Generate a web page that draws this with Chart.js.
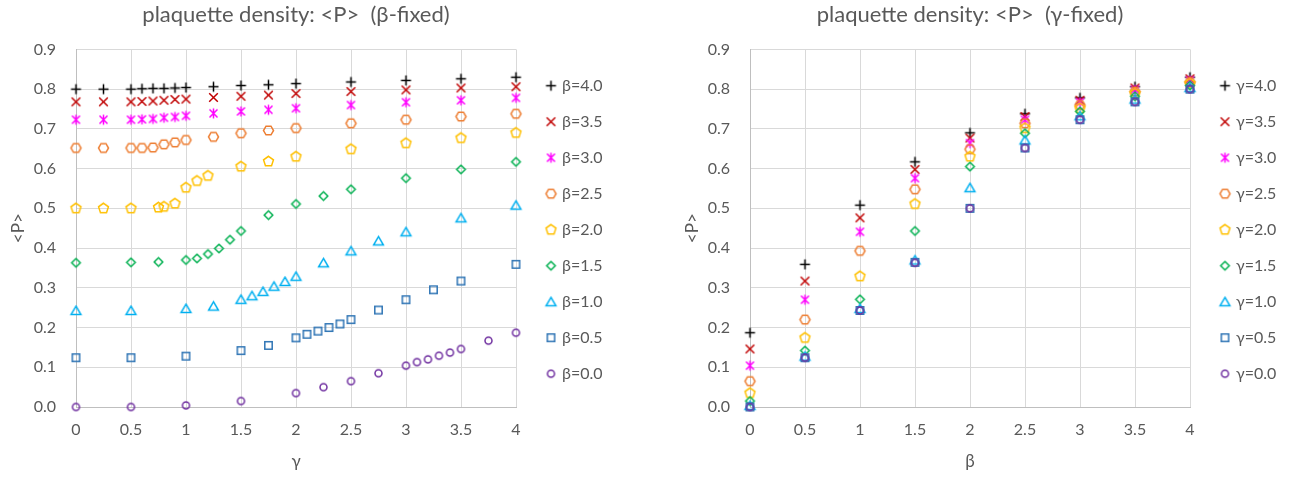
<!DOCTYPE html>
<html>
<head>
<meta charset="utf-8">
<script src="https://cdn.jsdelivr.net/npm/chart.js@4.4.1/dist/chart.umd.min.js"></script>
<style>
  html, body { margin: 0; padding: 0; background: #fff; }
  .row { display: flex; width: 1302px; height: 477px; }
  canvas { display: block; }
</style>
</head>
<body>
<div class="row">
  <canvas id="chartBeta" width="651" height="477"></canvas>
  <canvas id="chartGamma" width="651" height="477"></canvas>
</div>
<script>
// ── Data: left chart, <P> against γ for each fixed β ─────────────────────────
const gamma_b40 = [0, 0.25, 0.5, 0.6, 0.7, 0.8, 0.9, 1, 1.25, 1.5, 1.75, 2, 2.5, 3, 3.5, 4];
const P_b40 = [0.800, 0.800, 0.800, 0.801, 0.802, 0.802, 0.803, 0.804, 0.806, 0.809, 0.811, 0.814, 0.818, 0.822, 0.826, 0.830];
const gamma_b35 = [0, 0.25, 0.5, 0.6, 0.7, 0.8, 0.9, 1, 1.25, 1.5, 1.75, 2, 2.5, 3, 3.5, 4];
const P_b35 = [0.768, 0.768, 0.768, 0.769, 0.770, 0.772, 0.774, 0.775, 0.779, 0.782, 0.785, 0.789, 0.794, 0.798, 0.803, 0.806];
const gamma_b30 = [0, 0.25, 0.5, 0.6, 0.7, 0.8, 0.9, 1, 1.25, 1.5, 1.75, 2, 2.5, 3, 3.5, 4];
const P_b30 = [0.723, 0.723, 0.723, 0.724, 0.725, 0.728, 0.730, 0.733, 0.739, 0.744, 0.748, 0.752, 0.760, 0.767, 0.772, 0.778];
const gamma_b25 = [0, 0.25, 0.5, 0.6, 0.7, 0.8, 0.9, 1, 1.25, 1.5, 1.75, 2, 2.5, 3, 3.5, 4];
const P_b25 = [0.652, 0.652, 0.652, 0.652, 0.653, 0.661, 0.666, 0.672, 0.680, 0.689, 0.696, 0.702, 0.714, 0.723, 0.731, 0.738];
const gamma_b20 = [0, 0.25, 0.5, 0.75, 0.8, 0.9, 1, 1.1, 1.2, 1.5, 1.75, 2, 2.5, 3, 3.5, 4];
const P_b20 = [0.500, 0.500, 0.500, 0.502, 0.504, 0.512, 0.552, 0.569, 0.582, 0.605, 0.618, 0.630, 0.649, 0.664, 0.677, 0.690];
const gamma_b15 = [0, 0.5, 0.75, 1, 1.1, 1.2, 1.3, 1.4, 1.5, 1.75, 2, 2.25, 2.5, 3, 3.5, 4];
const P_b15 = [0.363, 0.364, 0.365, 0.370, 0.374, 0.385, 0.399, 0.421, 0.443, 0.483, 0.511, 0.531, 0.548, 0.576, 0.598, 0.617];
const gamma_b10 = [0, 0.5, 1, 1.25, 1.5, 1.6, 1.7, 1.8, 1.9, 2, 2.25, 2.5, 2.75, 3, 3.5, 4];
const P_b10 = [0.243, 0.243, 0.248, 0.254, 0.271, 0.280, 0.291, 0.304, 0.316, 0.329, 0.363, 0.393, 0.418, 0.441, 0.476, 0.508];
const gamma_b05 = [0, 0.5, 1, 1.5, 1.75, 2, 2.1, 2.2, 2.3, 2.4, 2.5, 2.75, 3, 3.25, 3.5, 4];
const P_b05 = [0.124, 0.124, 0.128, 0.142, 0.155, 0.174, 0.183, 0.191, 0.200, 0.209, 0.220, 0.244, 0.270, 0.295, 0.317, 0.359];
const gamma_b00 = [0, 0.5, 1, 1.5, 2, 2.25, 2.5, 2.75, 3, 3.1, 3.2, 3.3, 3.4, 3.5, 3.75, 4];
const P_b00 = [0.000, 0.000, 0.004, 0.015, 0.035, 0.050, 0.065, 0.085, 0.104, 0.113, 0.120, 0.129, 0.137, 0.146, 0.167, 0.187];

// ── Data: right chart, <P> against β for each fixed γ ─────────────────────────
const betaPoints = [0, 0.5, 1, 1.5, 2, 2.5, 3, 3.5, 4];
const P_g40 = [0.187, 0.359, 0.508, 0.617, 0.690, 0.738, 0.778, 0.806, 0.830];
const P_g35 = [0.146, 0.317, 0.476, 0.598, 0.677, 0.731, 0.772, 0.803, 0.826];
const P_g30 = [0.104, 0.270, 0.441, 0.576, 0.664, 0.723, 0.767, 0.798, 0.822];
const P_g25 = [0.065, 0.220, 0.393, 0.548, 0.649, 0.714, 0.760, 0.794, 0.818];
const P_g20 = [0.035, 0.174, 0.329, 0.511, 0.630, 0.702, 0.752, 0.789, 0.814];
const P_g15 = [0.015, 0.142, 0.271, 0.443, 0.605, 0.689, 0.744, 0.782, 0.809];
const P_g10 = [0.004, 0.128, 0.248, 0.370, 0.552, 0.672, 0.733, 0.775, 0.804];
const P_g05 = [0.000, 0.124, 0.243, 0.364, 0.500, 0.652, 0.723, 0.768, 0.800];
const P_g00 = [0.000, 0.124, 0.243, 0.363, 0.500, 0.652, 0.723, 0.768, 0.800];

// series labels, top to bottom as in the legends
const seriesTags = ['4.0', '3.5', '3.0', '2.5', '2.0', '1.5', '1.0', '0.5', '0.0'];
const xTickStep = 0.5;
const yTickStep = 0.1;

// ── Look ──────────────────────────────────────────────────────────────────────
const TXT = '#595959';
const GRID = '#D9D9D9';
const AXIS = '#BFBFBF';
const MARKS = [
    { shape: 'plus', color: '#000000' },
    { shape: 'cross', color: '#C00000' },
    { shape: 'star', color: '#FF00FF' },
    { shape: 'hexagon', color: '#ED7D31' },
    { shape: 'pentagon', color: '#FFC000' },
    { shape: 'diamond', color: '#00B050' },
    { shape: 'triangle', color: '#00B0F0' },
    { shape: 'square', color: '#2F75B5' },
    { shape: 'circle', color: '#7030A0' },
];

Chart.defaults.font.family = 'Lato, "Open Sans", sans-serif';
Chart.defaults.color = TXT;

// little canvas markers, used as pointStyle (chart and legend alike)
function makeMarker(shape, color) {
    const c = document.createElement('canvas');
    c.width = c.height = 15;
    const g = c.getContext('2d');
    g.translate(7.5, 7.5);
    g.strokeStyle = color;
    g.lineWidth = 1.5;
    g.beginPath();
    const poly = (n, r, a0) => {
        for (let k = 0; k < n; k++) {
            const a = a0 + k * 2 * Math.PI / n;
            k ? g.lineTo(r * Math.cos(a), r * Math.sin(a)) : g.moveTo(r * Math.cos(a), r * Math.sin(a));
        }
        g.closePath();
    };
    switch (shape) {
        case 'plus': g.moveTo(-5, 0); g.lineTo(5, 0); g.moveTo(0, -5); g.lineTo(0, 5); break;
        case 'cross': g.moveTo(-4.3, -4.3); g.lineTo(4.3, 4.3); g.moveTo(4.3, -4.3); g.lineTo(-4.3, 4.3); break;
        case 'star':
            g.moveTo(-4, -4); g.lineTo(4, 4); g.moveTo(4, -4); g.lineTo(-4, 4);
            g.moveTo(0, -5); g.lineTo(0, 5); break;
        case 'hexagon': poly(6, 5, 0); break;
        case 'pentagon': poly(5, 5.2, -Math.PI / 2); break;
        case 'diamond': poly(4, 4.3, -Math.PI / 2); break;
        case 'triangle': g.moveTo(0, -4.3); g.lineTo(4.9, 4); g.lineTo(-4.9, 4); g.closePath(); break;
        case 'square': g.rect(-3.7, -3.7, 7.4, 7.4); break;
        case 'circle': g.arc(0, 0, 3.5, 0, Math.PI * 2); break;
    }
    g.stroke();
    return c;
}

function makeSet(label, xs, ys, i) {
    return {
        label,
        data: xs.map((x, k) => ({ x, y: ys[k] })),
        pointStyle: makeMarker(MARKS[i].shape, MARKS[i].color),
        pointRadius: 5,
        borderColor: MARKS[i].color,
        backgroundColor: 'rgba(0,0,0,0)',
        clip: false,
    };
}

// pushes the legend column a bit away from the plot, like the original
const legendNudge = {
    id: 'legendNudge',
    afterLayout(chart) {
        const l = chart.legend;
        if (!l) return;
        const dx = chart.chartArea.right + 12 - l.left;
        l.left += dx; l.right += dx;
        l.top += 1.5; l.bottom += 1.5;
    },
};

function buildChart(id, datasets, title, xTitle, padLeft, rightRoom) {
    const chart = new Chart(document.getElementById(id), {
        type: 'scatter',
        data: { datasets },
        options: {
            responsive: false,
            animation: false,
            events: [],
            layout: { padding: { left: padLeft, right: 40, top: 0, bottom: 0 } },
            plugins: {
                title: {
                    display: true, text: title, fullSize: false, color: TXT,
                    font: { size: 22, weight: 'normal' }, padding: { top: 2, bottom: 21 },
                },
                legend: {
                    position: 'right', fullSize: false, reverse: true,
                    labels: { usePointStyle: true, boxWidth: 6, boxHeight: 6, padding: 20, color: TXT, font: { size: 16 } },
                },
                tooltip: { enabled: false },
            },
            scales: {
                x: {
                    type: 'linear', min: 0, max: 4,
                    ticks: { stepSize: xTickStep, padding: 13, color: TXT, font: { size: 16 }, callback: (v) => String(v) },
                    grid: { color: GRID, drawTicks: false },
                    border: { color: AXIS },
                    title: { display: true, text: xTitle, color: TXT, font: { size: 17 }, padding: { top: 0, bottom: 5 } },
                    afterFit: (s) => { s.height = 70; },
                },
                y: {
                    type: 'linear', min: 0, max: 0.9,
                    ticks: { stepSize: yTickStep, padding: 20, color: TXT, font: { size: 16 }, callback: (v) => v.toFixed(1) },
                    grid: { color: GRID, drawTicks: false },
                    border: { color: AXIS },
                    title: { display: true, text: '<P>', color: TXT, font: { size: 17 }, padding: { top: 4, bottom: 0 } },
                    afterFit: (s) => { s.width = 72; },
                },
            },
        },
        plugins: [legendNudge],
    });
    // second pass: size the right padding so the plot ends where it should
    chart.options.layout.padding.right = Math.max(0, rightRoom - chart.legend.width);
    chart.update();
    return chart;
}

// ── Build ─────────────────────────────────────────────────────────────────────
const betaSeries = [
    [gamma_b40, P_b40], [gamma_b35, P_b35], [gamma_b30, P_b30], [gamma_b25, P_b25], [gamma_b20, P_b20],
    [gamma_b15, P_b15], [gamma_b10, P_b10], [gamma_b05, P_b05], [gamma_b00, P_b00],
];
const gammaSeries = [P_g40, P_g35, P_g30, P_g25, P_g20, P_g15, P_g10, P_g05, P_g00];

// listed bottom series first so it is painted on top; legend is reversed back
const leftSets = betaSeries.map((s, i) => makeSet('β=' + seriesTags[i], s[0], s[1], i)).reverse();
const rightSets = gammaSeries.map((ys, i) => makeSet('γ=' + seriesTags[i], betaPoints, ys, i)).reverse();

buildChart('chartBeta', leftSets, 'plaquette density: <P>  (β-fixed)', 'γ', 4, 135);
buildChart('chartGamma', rightSets, 'plaquette density: <P>  (γ-fixed)', 'β', 27, 112);
</script>
</body>
</html>
